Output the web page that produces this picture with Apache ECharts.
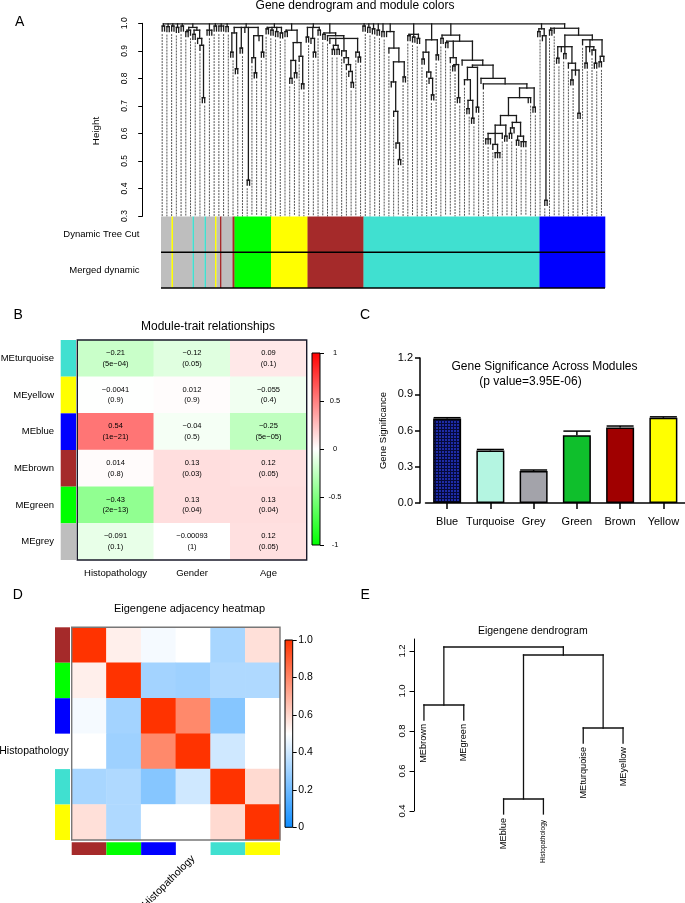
<!DOCTYPE html>
<html><head><meta charset="utf-8">
<script src="https://cdn.jsdelivr.net/npm/echarts/dist/echarts.min.js"></script>
<style>html,body{margin:0;padding:0;background:#fff}#c{width:685px;height:903px}</style>
</head><body><div id="c"></div>
<script>
// ---------------- DATA ----------------
// Panel A: gene dendrogram, nested [height, child, child, ...]; 0 = a gene leaf
const geneTree = [0.998,
  [0.99,0,0],[0.988,0,0],[0.99,0,0],[0.985,0,0],[0.99,0,0],
  [0.985,[0.975,[0.97,0,0],0],[0.975,[0.96,0,0],[0.945,0,[0.92,0,[0.73,0,0]]]]],
  [0.975,0,0,0],[0.99,0,0],[0.99,0,0,0],[0.988,0,0],
  [0.985,[0.965,[0.895,0,0],[0.835,0,0]],[0.91,0,0],0,[0.43,0,0],[0.955,[0.875,0,[0.82,0,0]],0,[0.895,0,0]]],
  [0.985,[0.98,0,0],[0.975,0,0],[0.97,0,0],[0.965,0,0]],
  [0.975,[0.97,0,0],[0.93,[0.865,[0.80,0,0],[0.82,0,0]],[0.88,0,[0.78,0,0]]]],
  [0.985,[0.95,0,0],[0.945,0,[0.895,0,0]],[0.975,0,0]],
  [0.965,[0.96,0,0],[0.955,0,[0.945,0,[0.92,[0.905,0,0],[0.905,0,0]],[0.90,0,[0.875,0,[0.85,0,[0.825,0,[0.785,0,0]]]]],[0.895,0,[0.877,0,0]]]]],
  [0.99,0,0],[0.985,0,0],[0.98,0,0],[0.975,0,0],[0.97,0,0],
  [0.97,0,[0.91,0,[0.86,[0.787,0,[0.68,0,[0.565,0,[0.505,0,0]]]],[0.805,0,0]]]],
  [0.96,[0.955,0,0],[0.95,0,0],[0.945,0,0]],
  [0.94,[0.895,[0.87,0,0],[0.823,0,[0.80,0,[0.74,0,0]]]],[0.885,0,0]],
  [0.957,[0.945,0,0],
    [0.935,[0.93,0,0],
      [0.875,0,[0.85,[0.845,0,0],[0.73,0,0]]],
      [0.866,0,
        [0.848,
          [0.84,[0.795,0,[0.72,[0.69,0,0],[0.655,0,0]]],[0.695,0,0]],
          [0.80,0,
            [0.78,0,
              [0.765,
                [0.73,
                  [0.665,
                    [0.63,[0.60,[0.58,0,0,0],[0.56,0,[0.53,0,0,0]],0],[0.59,0,0]],
                    [0.64,[0.62,[0.60,0,0],0],[0.59,[0.575,0,0],[0.57,0,0,0]]]],
                  0,0],
                [0.695,0,0]]]]]]]],
  [0.98,[0.97,0,0],[0.955,0,[0.357,0,0]]],
  [0.982,[0.975,0,0],0,[0.957,[0.915,[0.873,0,0],0,[0.89,0,0],[0.855,0,[0.83,[0.794,0,0],0,[0.673,0,0]]]],[0.94,0,[0.915,[0.855,0,0],0,[0.903,0,[0.855,0,0]]],[0.88,[0.86,0,0],0]]]]
];
// module colour runs along the gene order: [module, number of genes]
const moduleRuns = [['grey',21],['yellow',3],['grey',39],['turquoise',3],['grey',21],['turquoise',3],['grey',18],['yellow',3],['grey',7],['brown',3],['grey',22],['brown',4],['green',73],['yellow',73],['brown',112],['turquoise',352],['blue',131]];
const colorRowLabels = ['Dynamic Tree Cut','Merged dynamic'];
const heightTicks = [0.3,0.4,0.5,0.6,0.7,0.8,0.9,1.0];

// Panel B: module-trait relationships
const mtModules = ['MEturquoise','MEyellow','MEblue','MEbrown','MEgreen','MEgrey'];
const mtStrip = ['turquoise','yellow','blue','brown','green','grey'];
const mtTraits = ['Histopathology','Gender','Age'];
const mtCor = [[-0.21,-0.12,0.09],[-0.0041,0.012,-0.055],[0.54,-0.04,-0.25],[0.014,0.13,0.12],[-0.43,0.13,0.13],[-0.091,-0.00093,0.12]];
const mtP = [['5e-04','0.05','0.1'],['0.9','0.9','0.4'],['1e-21','0.5','5e-05'],['0.8','0.03','0.05'],['2e-13','0.04','0.04'],['0.1','1','0.05']];

// Panel C: gene significance across modules
const gsModules = ['Blue','Turquoise','Grey','Green','Brown','Yellow'];
const gsMean = [0.70,0.435,0.265,0.56,0.625,0.705];
const gsErr = [0.006,0.008,0.008,0.035,0.012,0.008];
const gsColors = ['#1d2b96','#b4f5e1','#a3a3aa','#0fbf2c','#a00000','#ffff00'];

// Panel D: eigengene adjacency heatmap
const adjNames = ['MEbrown','MEgreen','MEblue','Histopathology','MEturquoise','MEyellow'];
const adjStrip = ['brown','green','blue',null,'turquoise','yellow'];
const adjValues = [
  [1.00,0.54,0.48,0.50,0.32,0.575],
  [0.54,1.00,0.31,0.30,0.335,0.335],
  [0.48,0.31,1.00,0.79,0.25,0.50],
  [0.50,0.30,0.79,1.00,0.40,0.50],
  [0.32,0.335,0.25,0.40,1.00,0.59],
  [0.575,0.335,0.50,0.50,0.59,1.00]];

// Panel E: eigengene dendrogram (hclust-style merges)
const eLeaves = ['MEbrown','MEgreen','MEblue','Histopathology','MEturquoise','MEyellow'];
const eMerges = [[-1,-2,0.93],[-3,-4,0.46],[-5,-6,0.815],[2,3,1.18],[1,4,1.22]];
const eTicks = [0.4,0.6,0.8,1.0,1.2];

// ---------------- STYLE / HELPERS ----------------
const FONT = "'Liberation Sans', Arial, Helvetica, sans-serif";
const NARROW = "'Liberation Sans Narrow', 'Liberation Sans', Arial, sans-serif";
const moduleColor = {grey:'#bebebe', yellow:'#ffff00', turquoise:'#40e0d0', brown:'#a52a2a', green:'#00ff00', blue:'#0000ff'};

function layoutNested(tree, hang) {
  const segs = [], leaves = []; let idx = 0;
  function walk(node, parentH) {
    if (node === 0) { const x = idx++; const b = parentH - hang; leaves.push([x, b]); return {x, top: b}; }
    const h = node[0];
    const kids = node.slice(1).map(c => walk(c, h));
    kids.forEach(k => segs.push([k.x, h, k.x, k.top]));
    segs.push([kids[0].x, h, kids[kids.length - 1].x, h]);
    return {x: (kids[0].x + kids[kids.length - 1].x) / 2, top: h};
  }
  walk(tree, tree[0]);
  return {segs, leaves, n: idx};
}
function layoutMerges(merges, hang) {
  const segs = [], pts = [];
  function place(id) {
    if (id < 0) return {x: -id - 1, leaf: true, i: -id - 1};
    const m = merges[id - 1], h = m[2];
    const a = place(m[0]), b = place(m[1]);
    [a, b].forEach(c => {
      const bottom = c.leaf ? h - hang : c.h;
      segs.push([c.x, h, c.x, bottom]);
      if (c.leaf) pts.push([c.x, bottom, c.i]);
    });
    segs.push([a.x, h, b.x, h]);
    return {x: (a.x + b.x) / 2, h, leaf: false};
  }
  place(merges.length);
  return {segs, pts};
}
function segRender(color, width, dash) {
  return (params, api) => {
    const p1 = api.coord([api.value(0), api.value(1)]);
    const p2 = api.coord([api.value(2), api.value(3)]);
    return {type:'line', shape:{x1:p1[0], y1:p1[1], x2:p2[0], y2:p2[1]},
      style:{stroke:color, lineWidth:width, lineDash:dash || null, lineCap:'square'}};
  };
}
// strip of colour cells along one category axis; vertical = cells stacked top to bottom
function stripRender(colors, vertical) {
  return (params, api) => {
    const col = colors[params.dataIndex];
    if (!col) return null;
    const cs = params.coordSys;
    const c = api.coord([api.value(0), api.value(1)]);
    const s = api.size([1, 1]);
    const shape = vertical
      ? {x:cs.x, y:c[1] - s[1] / 2, width:cs.width, height:s[1]}
      : {x:c[0] - s[0] / 2, y:cs.y, width:s[0], height:cs.height};
    return {type:'rect', shape, style:{fill:moduleColor[col]}};
  };
}
function frameRender(stroke, lw, fill) {
  return (params) => {
    const cs = params.coordSys;
    return {type:'rect', shape:{x:cs.x, y:cs.y, width:cs.width, height:cs.height}, style:{fill:fill || 'none', stroke, lineWidth:lw}};
  };
}
const rMinus = s => String(s).replace(/-/g, '\u2212');

// ---------------- BUILD ----------------
const grids = [], xAxes = [], yAxes = [], series = [];
function addGrid(g, xa, ya) {
  grids.push(Object.assign({containLabel:false, outerBoundsMode:'none'}, g));
  const i = grids.length - 1;
  const fix = a => { a.axisLine = Object.assign({onZero:false}, a.axisLine || {}); return a; };
  xAxes.push(fix(Object.assign({gridIndex:i}, xa)));
  yAxes.push(fix(Object.assign({gridIndex:i}, ya)));
  return i;
}
const catHidden = (data, extra) => Object.assign({type:'category', data, show:false}, extra || {});
const base = {type:'custom', silent:true, clip:false, animation:false};

// ---- Panel A
const treeA = layoutNested(geneTree, 0.018);
const guideA = treeA.leaves.filter((_, i) => i % 2 === 0).map(([x, b]) => [x, b - 0.013, x, 0.3]);
const gA = addGrid({left:161, top:23.3, width:444, height:192.7},
  {type:'value', min:-0.5, max:treeA.n - 0.5, show:false},
  {type:'value', min:0.3, max:1.0, offset:18.3,
   axisLine:{show:true, lineStyle:{color:'#000', width:1}},
   axisTick:{show:true, length:4.5, lineStyle:{color:'#000'}, customValues:heightTicks},
   axisLabel:{rotate:90, margin:14, fontSize:8.5, fontFamily:FONT, color:'#000', customValues:heightTicks, formatter:v => v.toFixed(1)},
   splitLine:{show:false}});
series.push(Object.assign({}, base, {xAxisIndex:gA, yAxisIndex:gA, renderItem:segRender('#555', 1, [1, 2]), data:guideA}));
series.push(Object.assign({}, base, {xAxisIndex:gA, yAxisIndex:gA, renderItem:segRender('#1a1a1a', 1.3), data:treeA.segs}));

const runTotal = moduleRuns.reduce((s, r) => s + r[1], 0);
const barItems = [];
colorRowLabels.forEach((lab, r) => { let s = 0; moduleRuns.forEach(([c, n]) => { barItems.push([s, s + n, r, c]); s += n; }); });
const gAc = addGrid({left:161, top:216.5, width:444, height:71.5},
  {type:'value', min:0, max:runTotal, show:false},
  {type:'category', data:colorRowLabels, inverse:true, axisLine:{show:false}, axisTick:{show:false},
   axisLabel:{margin:21.5, fontSize:9.5, fontFamily:FONT, color:'#000', interval:0}});
series.push(Object.assign({}, base, {xAxisIndex:gAc, yAxisIndex:gAc,
  data:barItems.map(b => [b[0], b[2], b[1]]),
  renderItem:(params, api) => {
    const p1 = api.coord([api.value(0), api.value(1)]);
    const p2 = api.coord([api.value(2), api.value(1)]);
    const hgt = api.size([0, 1])[1];
    return {type:'rect', shape:{x:p1[0], y:p1[1] - hgt / 2, width:p2[0] - p1[0] + 0.3, height:hgt},
      style:{fill:moduleColor[barItems[params.dataIndex][3]]}};
  }}));
series.push(Object.assign({}, base, {xAxisIndex:gAc, yAxisIndex:gAc,
  data:colorRowLabels.map((_, r) => [0, r]),
  renderItem:(params, api) => {
    const cs = params.coordSys;
    const c = api.coord([0, api.value(1)]);
    const y = c[1] + api.size([0, 1])[1] / 2;
    return {type:'line', shape:{x1:cs.x, y1:y, x2:cs.x + cs.width, y2:y}, style:{stroke:'#000', lineWidth:1.6}};
  }}));

// ---- Panel B
const gBs = addGrid({left:60.7, top:340, width:15.3, height:220},
  catHidden(['']),
  {type:'category', data:mtModules, inverse:true, axisLine:{show:false}, axisTick:{show:false},
   axisLabel:{margin:6.7, fontSize:9.5, fontFamily:FONT, color:'#000', interval:0}});
series.push(Object.assign({}, base, {xAxisIndex:gBs, yAxisIndex:gBs, data:mtStrip.map((c, i) => [0, i]), renderItem:stripRender(mtStrip, true)}));

const gBh = addGrid({left:77.3, top:340, width:229.4, height:220},
  {type:'category', data:mtTraits, axisLine:{show:false}, axisTick:{show:false},
   axisLabel:{margin:8, fontSize:9.5, fontFamily:FONT, color:'#000', interval:0}},
  catHidden(mtModules, {inverse:true}));
const heatB = [];
mtCor.forEach((row, i) => row.forEach((v, j) => heatB.push([j, i, v])));
const idxHeatB = series.length;
series.push({type:'heatmap', xAxisIndex:gBh, yAxisIndex:gBh, data:heatB, animation:false, emphasis:{disabled:true},
  label:{show:true, fontSize:7.5, lineHeight:10.5, fontFamily:NARROW, color:'#000',
    formatter:p => rMinus(p.data[2]) + '\n(' + rMinus(mtP[p.data[1]][p.data[0]]) + ')'}});
series.push(Object.assign({}, base, {xAxisIndex:gBh, yAxisIndex:gBh, data:[[0, 0]], renderItem:frameRender('#1a1a2a', 1.4)}));

const gBl = addGrid({left:312, top:353, width:8, height:192},
  {type:'value', min:0, max:1, show:false},
  {type:'value', min:-1, max:1, interval:0.5, position:'right',
   axisLine:{show:false}, axisTick:{show:true, length:4, lineStyle:{color:'#000'}},
   axisLabel:{margin:15, align:'center', fontSize:7.5, fontFamily:NARROW, color:'#000', formatter:v => String(v)},
   splitLine:{show:false}});
series.push(Object.assign({}, base, {xAxisIndex:gBl, yAxisIndex:gBl, data:[[0, 0]],
  renderItem:frameRender('#000', 1, new echarts.graphic.LinearGradient(0, 0, 0, 1,
    [{offset:0, color:'#ff0000'}, {offset:0.5, color:'#ffffff'}, {offset:1, color:'#00ff00'}]))}));

// ---- Panel C
const pc = document.createElement('canvas'); pc.width = 3; pc.height = 3;
const pg = pc.getContext('2d');
pg.fillStyle = '#1e2ca8'; pg.fillRect(0, 0, 3, 3);
pg.fillStyle = '#060a3c'; pg.fillRect(0, 0, 1, 3); pg.fillRect(0, 0, 3, 1);
const gC = addGrid({left:425.5, top:358, width:259.5, height:145},
  {type:'category', data:gsModules,
   axisLine:{show:true, lineStyle:{color:'#000', width:1.5}},
   axisTick:{show:true, alignWithLabel:true, length:6, lineStyle:{color:'#000', width:1.5}},
   axisLabel:{margin:13, fontSize:11, fontFamily:FONT, color:'#000', interval:0}},
  {type:'value', min:0, max:1.2, interval:0.3, offset:5.5,
   axisLine:{show:true, lineStyle:{color:'#000', width:1.5}},
   axisTick:{show:true, length:5, lineStyle:{color:'#000', width:1.5}},
   axisLabel:{margin:7, fontSize:11, fontFamily:FONT, color:'#000', formatter:v => v.toFixed(1)},
   splitLine:{show:false},
   name:'Gene Significance', nameLocation:'middle', nameGap:32,
   nameTextStyle:{fontSize:9.5, fontFamily:FONT, color:'#000'}});
series.push({type:'bar', xAxisIndex:gC, yAxisIndex:gC, barWidth:28, animation:false, silent:true,
  data:gsMean.map((v, i) => ({value:v, itemStyle:{color:i === 0 ? {image:pc, repeat:'repeat'} : gsColors[i], borderColor:'#000', borderWidth:1.5}}))});
series.push(Object.assign({}, base, {xAxisIndex:gC, yAxisIndex:gC,
  data:gsMean.map((v, i) => [i, v, gsErr[i]]),
  renderItem:(params, api) => {
    const b = api.coord([api.value(0), api.value(1)]);
    const t = api.coord([api.value(0), api.value(1) + api.value(2)]);
    const hw = 13.5;
    return {type:'group', children:[
      {type:'line', shape:{x1:b[0], y1:b[1], x2:t[0], y2:t[1]}, style:{stroke:'#000', lineWidth:1.5}},
      {type:'line', shape:{x1:t[0] - hw, y1:t[1], x2:t[0] + hw, y2:t[1]}, style:{stroke:'#000', lineWidth:1.5}}]};
  }}));

// ---- Panel D
const showHisto = v => v === 'Histopathology' ? v : '';
const gDs = addGrid({left:55, top:627.3, width:15, height:212.7},
  catHidden(['']), catHidden(adjNames, {inverse:true}));
series.push(Object.assign({}, base, {xAxisIndex:gDs, yAxisIndex:gDs, data:adjStrip.map((c, i) => [0, i]), renderItem:stripRender(adjStrip, true)}));
const gDh = addGrid({left:71.7, top:627.3, width:208.3, height:212.7},
  catHidden(adjNames),
  {type:'category', data:adjNames, inverse:true, axisLine:{show:false}, axisTick:{show:false},
   axisLabel:{margin:3, fontSize:10.5, fontFamily:FONT, color:'#000', interval:0, formatter:showHisto}});
const heatD = [];
adjValues.forEach((row, i) => row.forEach((v, j) => heatD.push([j, i, v])));
const idxHeatD = series.length;
series.push({type:'heatmap', xAxisIndex:gDh, yAxisIndex:gDh, data:heatD, animation:false, emphasis:{disabled:true}});
series.push(Object.assign({}, base, {xAxisIndex:gDh, yAxisIndex:gDh, data:[[0, 0]], renderItem:frameRender('#777', 1.4)}));
const gDb = addGrid({left:71.7, top:842.3, width:208.3, height:12.7},
  {type:'category', data:adjNames, axisLine:{show:false}, axisTick:{show:false},
   axisLabel:{margin:2, rotate:45, fontSize:10.5, fontFamily:FONT, color:'#000', interval:0, formatter:showHisto}},
  catHidden(['']));
series.push(Object.assign({}, base, {xAxisIndex:gDb, yAxisIndex:gDb, data:adjStrip.map((c, i) => [i, 0]), renderItem:stripRender(adjStrip, false)}));
const gDl = addGrid({left:285, top:640, width:7.7, height:187.3},
  {type:'value', min:0, max:1, show:false},
  {type:'value', min:0, max:1, interval:0.2, position:'right',
   axisLine:{show:false}, axisTick:{show:true, length:4, lineStyle:{color:'#000'}},
   axisLabel:{margin:5.5, fontSize:10.5, fontFamily:FONT, color:'#000', formatter:v => v === 0 ? '0' : v.toFixed(1)},
   splitLine:{show:false}});
series.push(Object.assign({}, base, {xAxisIndex:gDl, yAxisIndex:gDl, data:[[0, 0]],
  renderItem:frameRender('#000', 1, new echarts.graphic.LinearGradient(0, 0, 0, 1,
    [{offset:0, color:'#ff3300'}, {offset:0.5, color:'#ffffff'}, {offset:1, color:'#0d8cff'}]))}));

// ---- Panel E
const treeE = layoutMerges(eMerges, 0.075);
const gE = addGrid({left:414, top:639, width:219, height:172},
  {type:'value', min:-0.25, max:eLeaves.length - 0.75, show:false},
  {type:'value', min:0.4, max:1.26,
   axisLine:{show:true, lineStyle:{color:'#000', width:1}},
   axisTick:{show:true, length:4.5, lineStyle:{color:'#000'}, customValues:eTicks},
   axisLabel:{rotate:90, margin:7, fontSize:9.5, fontFamily:FONT, color:'#000', customValues:eTicks, formatter:v => v.toFixed(1)},
   splitLine:{show:false}});
series.push(Object.assign({}, base, {xAxisIndex:gE, yAxisIndex:gE, renderItem:segRender('#111', 1.3), data:treeE.segs}));
series.push(Object.assign({}, base, {xAxisIndex:gE, yAxisIndex:gE, data:treeE.pts,
  renderItem:(params, api) => {
    const p = api.coord([api.value(0), api.value(1)]);
    const name = eLeaves[api.value(2)];
    const small = name.length > 12;
    return {type:'text', x:p[0], y:p[1] + (small ? 6 : 4), rotation:Math.PI / 2,
      style:{text:name, fontSize:small ? 6.5 : 9.2, fontFamily:FONT, fill:'#000', align:'right', verticalAlign:'middle'}};
  }}));

// ---------------- TEXT ----------------
const txt = (text, x, y, size, opts) => Object.assign({type:'text', x, y, silent:true,
  style:Object.assign({text, fontSize:size, fontFamily:FONT, fill:'#000', align:'center', verticalAlign:'middle'}, (opts && opts.style) || {})},
  opts && opts.rotation ? {rotation:opts.rotation} : {});
const graphics = [
  txt('A', 15, 22, 14, {style:{align:'left'}}),
  txt('B', 13.5, 315, 14, {style:{align:'left'}}),
  txt('C', 360, 315, 14, {style:{align:'left'}}),
  txt('D', 12.7, 595, 14, {style:{align:'left'}}),
  txt('E', 360.5, 595, 14, {style:{align:'left'}}),
  txt('Gene dendrogram and module colors', 355, 6, 12),
  txt('Height', 96.7, 131, 9.8, {rotation:Math.PI / 2}),
  txt('Module-trait relationships', 208, 327, 12),
  txt('Gene Significance Across Modules', 544.5, 366.7, 12),
  txt('(p value=3.95E-06)', 530.5, 381.7, 12),
  txt('Eigengene adjacency heatmap', 189.5, 609.3, 11),
  txt('Eigengene dendrogram', 532.8, 630.7, 10.5)
];

const chart = echarts.init(document.getElementById('c'), null, {renderer:'canvas'});
chart.setOption({
  animation:false,
  backgroundColor:'#ffffff',
  textStyle:{fontFamily:FONT},
  grid:grids, xAxis:xAxes, yAxis:yAxes,
  visualMap:[
    {type:'continuous', show:false, seriesIndex:idxHeatB, dimension:2, min:-1, max:1, inRange:{color:['#00ff00', '#ffffff', '#ff0000']}},
    {type:'continuous', show:false, seriesIndex:idxHeatD, dimension:2, min:0, max:1, inRange:{color:['#0d8cff', '#ffffff', '#ff3300']}}
  ],
  series,
  graphic:graphics
});
</script></body></html>
